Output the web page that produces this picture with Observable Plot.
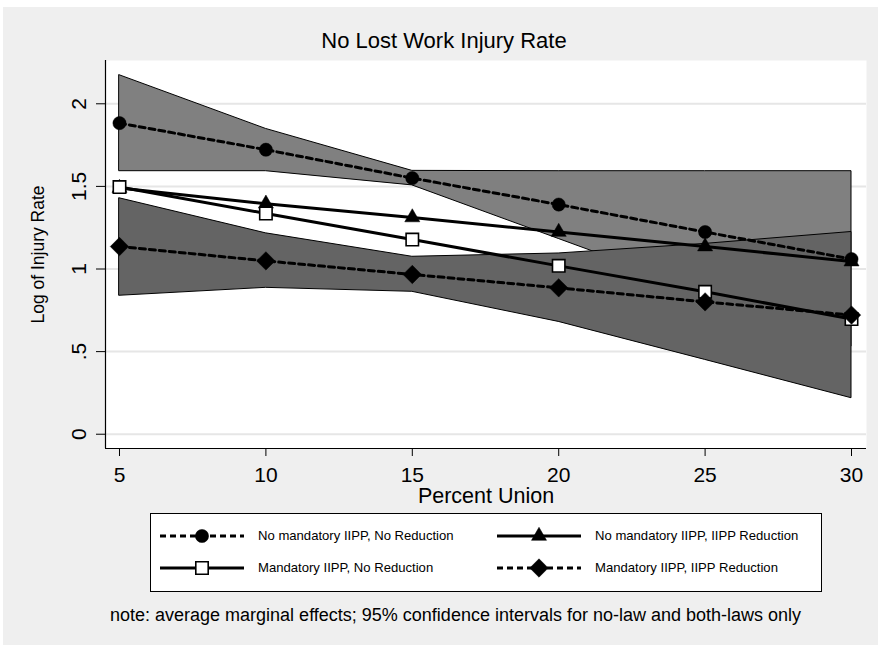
<!DOCTYPE html>
<html><head><meta charset="utf-8">
<script src="https://cdn.jsdelivr.net/npm/d3@7"></script>
<script src="https://cdn.jsdelivr.net/npm/@observablehq/plot@0.6"></script>
<style>
html,body{margin:0;padding:0;background:#fff;width:878px;height:645px;overflow:hidden;font-family:"Liberation Sans",Arial,sans-serif;color:#000;}
#bg{position:absolute;left:3px;top:7px;width:875px;height:638px;background:#efefef;}
#title{position:absolute;left:0;top:30px;width:888px;text-align:center;font-size:22px;line-height:22px;}
#chart{position:absolute;left:3px;top:55px;}
#legend{position:absolute;left:150px;top:513px;width:672px;height:79px;border:1px solid #000;background:#fff;box-sizing:border-box;}
.item{position:absolute;height:24px;}
.item svg{position:absolute;left:0;top:0;}
.item span{position:absolute;top:3px;font-size:13.1px;white-space:nowrap;line-height:18px;}
#note{position:absolute;left:110px;top:605px;font-size:18px;line-height:20px;white-space:nowrap;}
</style></head><body>
<div id="bg"></div>
<div id="title">No Lost Work Injury Rate</div>
<div id="chart"></div>
<div id="legend"></div>
<div id="note">note: average marginal effects; 95% confidence intervals for no-law and both-laws only</div>
<script>
// ---- data ----
const percentUnion = [5, 10, 15, 20, 25, 30];
const noLaw      = [1.883, 1.722, 1.550, 1.390, 1.224, 1.060]; // No mandatory IIPP, No Reduction
const noLawLo    = [1.592, 1.592, 1.506, 1.182, 0.858, 0.530];
const noLawHi    = [2.173, 1.848, 1.594, 1.592, 1.592, 1.592];
const reductionOnly = [1.490, 1.395, 1.312, 1.224, 1.136, 1.045]; // No mandatory IIPP, IIPP Reduction
const mandatoryOnly = [1.496, 1.336, 1.178, 1.019, 0.862, 0.697]; // Mandatory IIPP, No Reduction
const bothLaws   = [1.136, 1.049, 0.967, 0.886, 0.801, 0.721]; // Mandatory IIPP, IIPP Reduction
const bothLo     = [0.838, 0.886, 0.862, 0.680, 0.450, 0.218];
const bothHi     = [1.428, 1.216, 1.074, 1.094, 1.152, 1.224];
const yTicks = [0, 0.5, 1, 1.5, 2];
const seriesLabels = ["No mandatory IIPP, No Reduction", "No mandatory IIPP, IIPP Reduction", "Mandatory IIPP, No Reduction", "Mandatory IIPP, IIPP Reduction"];

// ---- styles ----
const seriesStyle = [
  {key: "noLaw", symbol: "circle", r: 6.6, fill: "#000", dash: "6,4"},
  {key: "reductionOnly", symbol: "triangle", r: 5.6, fill: "#000", dash: null},
  {key: "mandatoryOnly", symbol: "square", r: 7.0, fill: "#fff", dash: null},
  {key: "bothLaws", symbol: "diamond2", r: 8.3, fill: "#000", dash: "6,4"}
];

const rows = percentUnion.map((x, i) => ({
  x, noLaw: noLaw[i], noLawLo: noLawLo[i], noLawHi: noLawHi[i],
  reductionOnly: reductionOnly[i], mandatoryOnly: mandatoryOnly[i],
  bothLaws: bothLaws[i], bothLo: bothLo[i], bothHi: bothHi[i]
}));

const xDomain = [4.522, 30.512];
const yDomain = [-0.0864, 2.262];
const fmt = d => d === 0 ? "0" : String(d).replace(/^0\./, ".");

const seriesMarks = seriesStyle.flatMap(s => [
  Plot.lineY(rows, {x: "x", y: s.key, stroke: "#000", strokeWidth: 3, strokeDasharray: s.dash ?? undefined}),
  Plot.dot(rows, {x: "x", y: s.key, symbol: () => s.symbol, r: s.r, fill: s.fill, stroke: "#000", strokeWidth: s.fill === "#fff" ? 1.6 : 0.5})
]);

const chart = Plot.plot({
  width: 875, height: 460,
  marginLeft: 102, marginRight: 12, marginTop: 5, marginBottom: 67,
  style: {fontFamily: "'Liberation Sans', Arial, sans-serif", background: "transparent", color: "#000", overflow: "visible"},
  x: {domain: xDomain},
  y: {domain: yDomain},
  marks: [
    Plot.frame({fill: "#fff", stroke: "none"}),
    Plot.gridY(yTicks, {stroke: "#e6e6e6", strokeOpacity: 1, strokeWidth: 2}),
    Plot.areaY(rows, {x: "x", y1: "noLawLo", y2: "noLawHi", fill: "#808080", fillOpacity: 1, stroke: "#000", strokeWidth: 1}),
    Plot.areaY(rows, {x: "x", y1: "bothLo", y2: "bothHi", fill: "#646464", fillOpacity: 1, stroke: "#000", strokeWidth: 1}),
    ...seriesMarks,
    Plot.ruleX([xDomain[0]], {stroke: "#000", strokeWidth: 1.2}),
    Plot.ruleY([yDomain[0]], {stroke: "#000", strokeWidth: 1.2}),
    Plot.axisX(percentUnion, {tickSize: 8, tickPadding: 11, fontSize: 21, tickFormat: d => String(d), label: null, stroke: "#000"}),
    Plot.axisY(yTicks, {tickSize: 9, tickPadding: 11, tickRotate: -90, fontSize: 21, tickFormat: fmt, label: null, stroke: "#000"}),
    Plot.text(["Percent Union"], {frameAnchor: "bottom", dy: 39, lineAnchor: "top", textAnchor: "middle", fontSize: 21.5, text: d => d}),
    Plot.text(["Log of Injury Rate"], {frameAnchor: "left", dx: -67, rotate: -90, textAnchor: "middle", lineAnchor: "middle", fontSize: 17.5, text: d => d})
  ]
});
document.getElementById("chart").appendChild(chart);

// ---- legend ----
const legend = d3.select("#legend");
const symMap = {circle: d3.symbolCircle, triangle: d3.symbolTriangle, square: d3.symbolSquare, diamond2: d3.symbolDiamond2};
const pos = [[9, 22], [346, 22], [9, 54], [346, 54]];
seriesStyle.forEach((s, i) => {
  const it = legend.append("div").attr("class", "item").style("left", pos[i][0] + "px").style("top", (pos[i][1] - 12) + "px");
  const svg = it.append("svg").attr("width", 90).attr("height", 24);
  svg.append("line").attr("x1", 0).attr("x2", 84).attr("y1", 12).attr("y2", 12)
    .attr("stroke", "#000").attr("stroke-width", 3).attr("stroke-dasharray", s.dash);
  svg.append("path").attr("transform", "translate(42,12)")
    .attr("d", d3.symbol(symMap[s.symbol], Math.PI * s.r * s.r)())
    .attr("fill", s.fill).attr("stroke", "#000").attr("stroke-width", s.fill === "#fff" ? 1.6 : 0.5);
  it.append("span").style("left", "98px").text(seriesLabels[i]);
});
</script>
</body></html>
